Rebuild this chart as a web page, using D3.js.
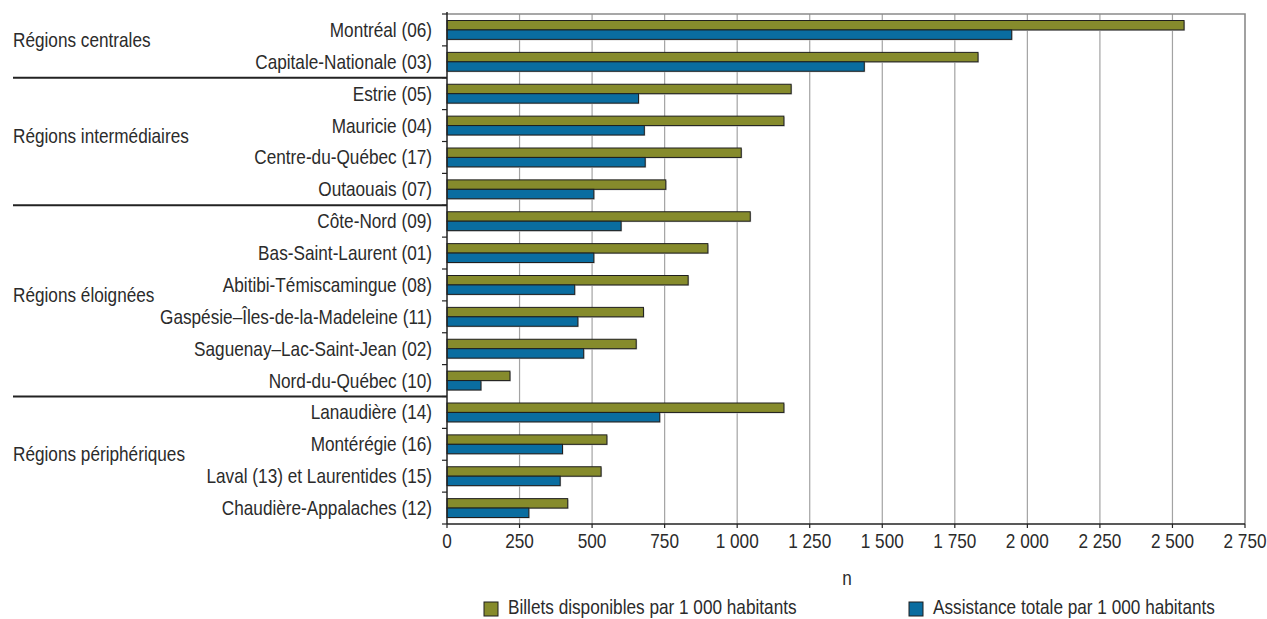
<!DOCTYPE html>
<html><head><meta charset="utf-8">
<script src="https://cdn.jsdelivr.net/npm/d3@7"></script>
<style>
html,body{margin:0;padding:0;background:#fff;}
svg text{font-family:"Liberation Sans Narrow","Arial Narrow","Liberation Sans",Arial,sans-serif;fill:#2b2b2b;}
</style></head><body>
<svg id="c" width="1267" height="619"></svg>
<script>
const categories = ["Montréal (06)","Capitale-Nationale (03)","Estrie (05)","Mauricie (04)","Centre-du-Québec (17)","Outaouais (07)","Côte-Nord (09)","Bas-Saint-Laurent (01)","Abitibi-Témiscamingue (08)","Gaspésie–Îles-de-la-Madeleine (11)","Saguenay–Lac-Saint-Jean (02)","Nord-du-Québec (10)","Lanaudière (14)","Montérégie (16)","Laval (13) et Laurentides (15)","Chaudière-Appalaches (12)"];
const billets = [2540,1830,1186,1161,1014,754,1045,899,831,677,652,217,1161,551,531,416];
const assistance = [1946,1438,660,680,683,506,600,506,440,451,471,117,733,398,390,282];
const groups = ["Régions centrales","Régions intermédiaires","Régions éloignées","Régions périphériques"];
const groupSizes = [2,4,6,4];
const seriesNames = ["Billets disponibles par 1 000 habitants","Assistance totale par 1 000 habitants"];
const xTicks = [0,250,500,750,1000,1250,1500,1750,2000,2250,2500,2750];
const axisTitle = "n";

const colors = ["#868b2c","#0a6da0"];
const svg = d3.select("#c");
const L = 447, R = 1245, T = 14, B = 524;
const FS = 20, SX = 0.86;
const x = d3.scaleLinear().domain([0,2750]).range([L,R]);
const y = d3.scaleBand().domain(categories).range([T,B]);
const inner = d3.scaleBand().domain([0,1]).range([6.5, y.bandwidth()-6.5]);
const fmt = v => d3.format(",")(v).replace(/,/g, " ");

function txt(parent, tx, ty, s, anchor, dy){
  return parent.append("text")
    .attr("transform",`translate(${tx},${ty}) scale(${SX},1)`)
    .attr("text-anchor",anchor||"start").attr("dy",dy||null)
    .attr("font-size",FS).text(s);
}

// gridlines
svg.append("g").selectAll("line").data(xTicks.filter(t=>t>0 && t<2750)).join("line")
  .attr("x1",d=>x(d)).attr("x2",d=>x(d)).attr("y1",T).attr("y2",B)
  .attr("stroke","#a3a3a3").attr("stroke-width",1.2);
// top & right border
svg.append("path").attr("d",`M${L},${T}H${R}V${B}`).attr("fill","none").attr("stroke","#8a8a8a").attr("stroke-width",1.6);

// bars
const rows = categories.map((c,i)=>({c, v:[billets[i],assistance[i]]}));
const g = svg.append("g");
rows.forEach(r=>{
  r.v.forEach((v,j)=>{
    const y0 = y(r.c)+inner(j);
    g.append("rect").attr("x",L+1).attr("y",y0+1).attr("width",x(v)-L).attr("height",inner.bandwidth())
      .attr("fill","#c8c8c8");
    g.append("rect").attr("x",L).attr("y",y0).attr("width",x(v)-L).attr("height",inner.bandwidth())
      .attr("fill",colors[j]).attr("stroke","#1e1e1e").attr("stroke-width",1);
  });
});

// y axis line and ticks
svg.append("line").attr("x1",L).attr("x2",L).attr("y1",T-2).attr("y2",B).attr("stroke","#222").attr("stroke-width",1.5);
const bounds = d3.range(0,categories.length+1).map(i=>T+i*y.step());
svg.append("g").selectAll("line").data(bounds).join("line")
  .attr("x1",L-5).attr("x2",L).attr("y1",d=>d).attr("y2",d=>d).attr("stroke","#222").attr("stroke-width",1.2);

// category labels
const cl = svg.append("g");
categories.forEach(c=>txt(cl, 432, y(c)+y.bandwidth()/2, c, "end", "0.35em"));

// group separators and labels
let acc = 0;
groups.forEach((gname,i)=>{
  const start = acc, end = acc+groupSizes[i];
  const yc = T + (start+end)/2*y.step();
  txt(svg, 13, yc-6, gname, "start", "0.35em");
  if(i<groups.length-1){
    const yy = T+end*y.step();
    svg.append("line").attr("x1",13).attr("x2",L).attr("y1",yy).attr("y2",yy).attr("stroke","#222").attr("stroke-width",2);
  }
  acc = end;
});

// x axis
svg.append("line").attr("x1",L).attr("x2",R).attr("y1",B).attr("y2",B).attr("stroke","#222").attr("stroke-width",1.5);
svg.append("g").selectAll("line").data(xTicks).join("line")
  .attr("x1",d=>x(d)).attr("x2",d=>x(d)).attr("y1",B).attr("y2",B+4).attr("stroke","#222").attr("stroke-width",1.2);
const tl = svg.append("g");
xTicks.forEach(t=>txt(tl, x(t), 548, fmt(t), "middle"));
txt(svg, 847, 585, axisTitle, "middle");

// legend
const legX = [484,909];
seriesNames.forEach((s,j)=>{
  svg.append("rect").attr("x",legX[j]).attr("y",602).attr("width",14).attr("height",14)
    .attr("fill",colors[j]).attr("stroke","#1e1e1e").attr("stroke-width",1);
  txt(svg, legX[j]+24, 613.5, s, "start");
});
</script></body></html>
